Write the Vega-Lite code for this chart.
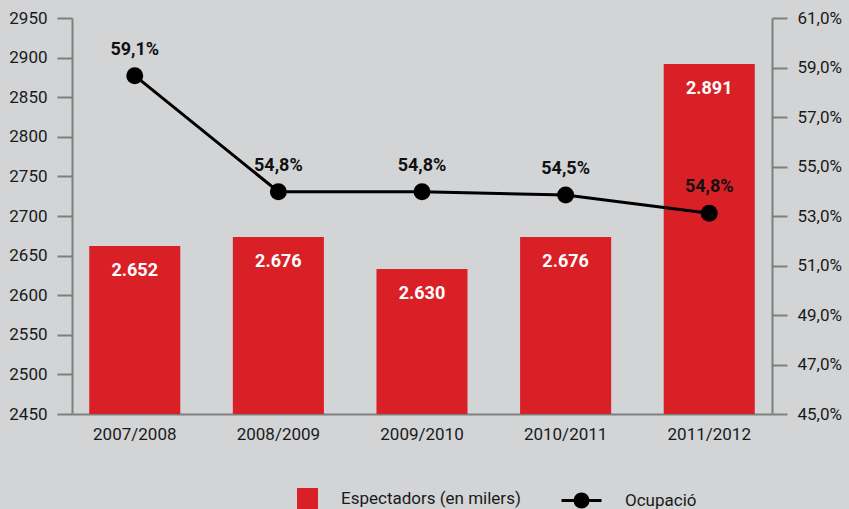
{
  "$schema": "https://vega.github.io/schema/vega-lite/v6.json",
  "width": 700,
  "height": 396,
  "autosize": {"type": "none"},
  "padding": {"left": 72, "top": 18, "right": 77, "bottom": 95},
  "background": "#d3d4d6",
  "config": {
    "view": {"stroke": null},
    "font": "Roboto",
    "axis": {
      "labelFont": "Roboto",
      "labelFontSize": 17,
      "labelColor": "#1a1a1a",
      "domainColor": "#7f7f7f",
      "tickColor": "#7f7f7f",
      "domainWidth": 2,
      "tickWidth": 2,
      "tickSize": 15,
      "grid": false,
      "title": null
    },
    "legend": {"labelFont": "Roboto", "labelFontSize": 17, "labelColor": "#1a1a1a", "labelLimit": 400}
  },
  "data": {
    "values": [
      {"temporada": "2007/2008", "espectadors": 2662, "espectadorsLabel": "2.652", "ocupacio": 58.67, "ocupacioLabel": "59,1%"},
      {"temporada": "2008/2009", "espectadors": 2673.5, "espectadorsLabel": "2.676", "ocupacio": 53.98, "ocupacioLabel": "54,8%"},
      {"temporada": "2009/2010", "espectadors": 2633, "espectadorsLabel": "2.630", "ocupacio": 53.98, "ocupacioLabel": "54,8%"},
      {"temporada": "2010/2011", "espectadors": 2673.5, "espectadorsLabel": "2.676", "ocupacio": 53.85, "ocupacioLabel": "54,5%"},
      {"temporada": "2011/2012", "espectadors": 2892, "espectadorsLabel": "2.891", "ocupacio": 53.11, "ocupacioLabel": "54,8%"}
    ]
  },
  "encoding": {
    "x": {
      "field": "temporada",
      "type": "nominal",
      "sort": null,
      "scale": {"paddingInner": 0.366, "paddingOuter": 0.12},
      "axis": {"ticks": false, "labelPadding": 12, "labelAngle": 0}
    }
  },
  "layer": [
    {
      "mark": {"type": "bar", "clip": true},
      "encoding": {
        "y": {
          "field": "espectadors",
          "type": "quantitative",
          "scale": {"domain": [2450, 2950], "nice": false, "zero": false},
          "axis": {"orient": "left", "values": [2450, 2500, 2550, 2600, 2650, 2700, 2750, 2800, 2850, 2900, 2950], "labelPadding": 10, "format": "d"}
        },
        "fill": {
          "datum": "Espectadors (en milers)",
          "type": "nominal",
          "scale": {"range": ["#d92027"]},
          "legend": {
            "orient": "none",
            "legendX": 225,
            "legendY": 470,
            "title": null,
            "symbolType": "square",
            "symbolSize": 441,
            "symbolStrokeWidth": 0,
            "labelOffset": 23,
            "labelLimit": 400,
            "padding": 0
          }
        }
      }
    },
    {
      "mark": {"type": "text", "baseline": "middle", "align": "center", "dy": 25, "fontWeight": "bold", "fontSize": 18, "color": "white", "font": "Roboto"},
      "encoding": {
        "y": {"field": "espectadors", "type": "quantitative", "scale": {"domain": [2450, 2950], "nice": false, "zero": false}, "axis": null},
        "text": {"field": "espectadorsLabel"}
      }
    },
    {
      "mark": {"type": "line", "strokeWidth": 3},
      "encoding": {
        "y": {
          "field": "ocupacio",
          "type": "quantitative",
          "scale": {"domain": [45, 61], "nice": false, "zero": false},
          "axis": {"orient": "right", "values": [45, 47, 49, 51, 53, 55, 57, 59, 61], "labelPadding": 10, "labelExpr": "replace(format(datum.value, '.1f'), '.', ',') + '%'"}
        },
        "stroke": {
          "datum": "Ocupació",
          "type": "nominal",
          "scale": {"range": ["black"]},
          "legend": {
            "orient": "none",
            "legendX": 488,
            "legendY": 461,
            "title": null,
            "symbolType": "M-1,0H1M0.325,0A0.325,0.325,0,1,1,-0.325,0A0.325,0.325,0,1,1,0.325,0Z",
            "symbolSize": 1600,
            "symbolStrokeWidth": 3,
            "labelOffset": 22,
            "labelLimit": 400,
            "padding": 0,
            "encode": {"symbols": {"update": {"fill": {"value": "black"}, "stroke": {"value": "black"}}}}
          }
        }
      }
    },
    {
      "mark": {"type": "point", "filled": true, "size": 289, "color": "black", "opacity": 1},
      "encoding": {
        "y": {"field": "ocupacio", "type": "quantitative", "scale": {"domain": [45, 61], "nice": false, "zero": false}, "axis": null}
      }
    },
    {
      "mark": {"type": "text", "baseline": "middle", "align": "center", "dy": -26, "fontWeight": "bold", "fontSize": 18, "color": "#111111", "font": "Roboto"},
      "encoding": {
        "y": {"field": "ocupacio", "type": "quantitative", "scale": {"domain": [45, 61], "nice": false, "zero": false}, "axis": null},
        "text": {"field": "ocupacioLabel"}
      }
    }
  ],
  "resolve": {"scale": {"y": "independent"}}
}
